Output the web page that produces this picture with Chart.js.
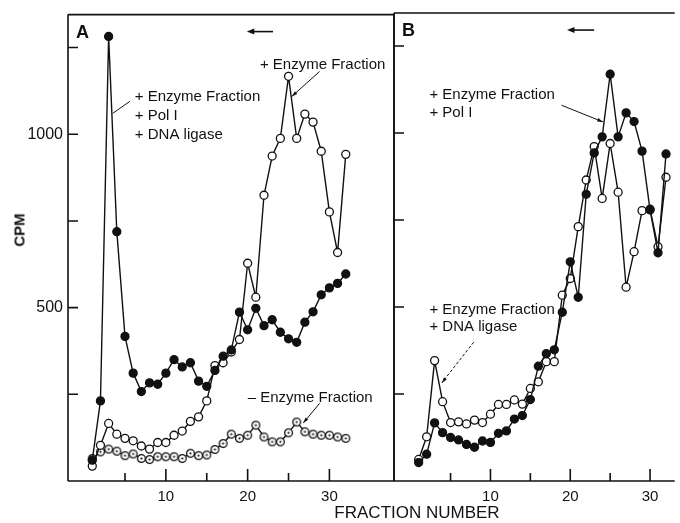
<!DOCTYPE html>
<html>
<head>
<meta charset="utf-8">
<title>CPM vs fraction number</title>
<script src="https://cdn.jsdelivr.net/npm/chart.js@4.4.0/dist/chart.umd.min.js"></script>
<style>
  html, body { margin: 0; padding: 0; background: #fff; }
  #wrap { position: relative; width: 680px; height: 523px; overflow: hidden; font-family: "Liberation Sans", Arial, sans-serif; color: #111; }
  #boxA { position: absolute; left: 0; top: 0; width: 400px; height: 523px; }
  #boxB { position: absolute; left: 380px; top: 0; width: 300px; height: 523px; }
  .ytitle { position: absolute; left: 19px; top: 230px; transform: translate(-50%, -50%) rotate(-90deg); font-weight: bold; font-size: 15px; }
  .xtitle { position: absolute; left: 417px; top: 513px; transform: translate(-50%, -50%); font-size: 17px; white-space: nowrap; }
</style>
</head>
<body>
<div id="wrap">
  <div id="boxA"><canvas id="chartA"></canvas></div>
  <div id="boxB"><canvas id="chartB"></canvas></div>
  <div class="ytitle">CPM</div>
  <div class="xtitle">FRACTION NUMBER</div>
</div>
<script>
// Fraction numbers (x values for every series)
const FRACTIONS = [1, 2, 3, 4, 5, 6, 7, 8, 9, 10, 11, 12, 13, 14, 15, 16,
  17, 18, 19, 20, 21, 22, 23, 24, 25, 26, 27, 28, 29, 30, 31, 32];

// Panel A
const A_ENZ_POL_LIGASE = [60, 231, 1282, 719, 417, 311, 258, 283, 279, 311, 350, 329, 341, 288, 273, 319,
  360, 378, 487, 436, 498, 448, 465, 429, 410, 400, 458, 488, 537, 557, 570, 597];
const A_ENZ = [43, 103, 166, 135, 123, 116, 101, 92, 111, 111, 132, 144, 172, 185, 231, 333,
  341, 372, 408, 628, 530, 824, 937, 988, 1167, 988, 1058, 1035, 951, 776, 659, 942];
const A_NO_ENZ = [65, 84, 92, 86, 73, 78, 65, 62, 70, 70, 70, 65, 80, 73, 75, 91,
  108, 135, 123, 132, 161, 127, 113, 113, 139, 170, 142, 135, 132, 132, 127, 123];

// Panel B
const B_ENZ_POL = [53, 77, 167, 139, 125, 118, 105, 97, 115, 111, 137, 144, 178, 188, 234, 330,
  366, 377, 485, 630, 528, 824, 943, 989, 1169, 989, 1058, 1033, 948, 779, 656, 940];
const B_ENZ_LIGASE = [62, 127, 346, 228, 168, 170, 164, 175, 168, 192, 220, 220, 233, 221, 266, 285,
  343, 343, 534, 582, 731, 865, 961, 812, 970, 830, 557, 659, 777, 781, 673, 873];

// Axis ticks
const X_TICKS = [5, 10, 15, 20, 25, 30];
const X_LABELED = [10, 20, 30];
const Y_TICKS = [250, 500, 750, 1000, 1250];
const Y_LABELED = [500, 1000];

const INK = '#111';
const FONT = '"Liberation Sans", Arial, sans-serif';

// Point style: open circle with a dot in the middle
function dottedCircle() {
  const c = document.createElement('canvas');
  c.width = 11; c.height = 11;
  const g = c.getContext('2d');
  g.fillStyle = '#fff';
  g.strokeStyle = INK;
  g.lineWidth = 1.3;
  g.beginPath(); g.arc(5.5, 5.5, 3.9, 0, Math.PI * 2); g.fill(); g.stroke();
  g.fillStyle = INK;
  g.beginPath(); g.arc(5.5, 5.5, 1.1, 0, Math.PI * 2); g.fill();
  return c;
}

function toPoints(values) {
  return values.map((v, i) => ({ x: FRACTIONS[i], y: v }));
}

function series(values, kind, order) {
  const ds = {
    data: toPoints(values),
    borderColor: INK,
    borderWidth: 1.4,
    pointRadius: 4,
    pointBorderWidth: 1.3,
    pointBorderColor: INK,
    pointBackgroundColor: kind === 'filled' ? INK : '#fff',
    tension: 0,
    order: order
  };
  if (kind === 'dotted') ds.pointStyle = dottedCircle();
  return ds;
}

// Annotations, in data coordinates (fraction, CPM)
const notesA = {
  letter: 'A',
  texts: [
    { lines: ['+ Enzyme Fraction', '+ Pol I', '+ DNA ligase'], x: 6.2, y: 1109, gap: 19 },
    { lines: ['+ Enzyme Fraction'], x: 21.5, y: 1201, gap: 19 },
    { lines: ['\u2013 Enzyme Fraction'], x: 20.0, y: 241, gap: 19 }
  ],
  leaders: [
    { from: [5.6, 1095], to: [3.5, 1060], head: false, dash: false },
    { from: [28.8, 1181], to: [25.4, 1109], head: true, dash: false },
    { from: [28.8, 224], to: [26.8, 167], head: true, dash: false }
  ],
  direction: { from: [23.1, 1296], to: [19.9, 1296] }
};

const notesB = {
  letter: 'B',
  texts: [
    { lines: ['+ Enzyme Fraction', '+ Pol I'], x: 2.35, y: 1109, gap: 18 },
    { lines: ['+ Enzyme Fraction', '+ DNA ligase'], x: 2.35, y: 491, gap: 17 }
  ],
  leaders: [
    { from: [18.9, 1080], to: [24.1, 1032], head: true, dash: false },
    { from: [7.9, 399], to: [3.9, 282], head: true, dash: true }
  ],
  direction: { from: [23.0, 1296], to: [19.6, 1296] }
};

function arrowHead(ctx, x1, y1, x2, y2, len, wide) {
  const ang = Math.atan2(y2 - y1, x2 - x1);
  ctx.beginPath();
  ctx.moveTo(x2, y2);
  ctx.lineTo(x2 - len * Math.cos(ang - wide), y2 - len * Math.sin(ang - wide));
  ctx.lineTo(x2 - len * Math.cos(ang + wide), y2 - len * Math.sin(ang + wide));
  ctx.closePath();
  ctx.fill();
}

// Frame, inward ticks and annotations
const framePlugin = {
  id: 'frame',
  afterDraw(chart, args, opts) {
    const { ctx, chartArea: a, scales: { x, y } } = chart;
    ctx.save();
    ctx.strokeStyle = INK;
    ctx.fillStyle = INK;
    ctx.lineWidth = 1.6;
    ctx.beginPath();
    ctx.moveTo(a.left, a.top); ctx.lineTo(a.right, a.top);
    ctx.moveTo(a.left, a.top); ctx.lineTo(a.left, a.bottom);
    ctx.moveTo(a.left, a.bottom); ctx.lineTo(a.right, a.bottom);
    if (opts.rightBorder) { ctx.moveTo(a.right, a.top); ctx.lineTo(a.right, a.bottom); }
    x.ticks.forEach(t => {
      const px = x.getPixelForValue(t.value);
      const len = X_LABELED.includes(t.value) ? 12 : 8;
      ctx.moveTo(px, a.bottom); ctx.lineTo(px, a.bottom - len);
    });
    y.ticks.forEach(t => {
      const py = y.getPixelForValue(t.value);
      ctx.moveTo(a.left, py); ctx.lineTo(a.left + 10, py);
    });
    ctx.stroke();

    const n = opts.notes;
    // panel letter
    ctx.font = 'bold 18px ' + FONT;
    ctx.textBaseline = 'middle';
    ctx.textAlign = 'left';
    ctx.fillText(n.letter, a.left + 8, a.top + 18);

    // text blocks
    ctx.font = '15px ' + FONT;
    n.texts.forEach(t => {
      const px = x.getPixelForValue(t.x);
      const py = y.getPixelForValue(t.y);
      t.lines.forEach((line, i) => ctx.fillText(line, px, py + i * t.gap));
    });

    // leader lines
    ctx.lineWidth = 1;
    n.leaders.forEach(l => {
      const x1 = x.getPixelForValue(l.from[0]), y1 = y.getPixelForValue(l.from[1]);
      const x2 = x.getPixelForValue(l.to[0]), y2 = y.getPixelForValue(l.to[1]);
      ctx.setLineDash(l.dash ? [3, 2] : []);
      ctx.beginPath(); ctx.moveTo(x1, y1); ctx.lineTo(x2, y2); ctx.stroke();
      ctx.setLineDash([]);
      if (l.head) arrowHead(ctx, x1, y1, x2, y2, 6, 0.3);
    });

    // sedimentation direction arrow
    const d = n.direction;
    const dx1 = x.getPixelForValue(d.from[0]), dy1 = y.getPixelForValue(d.from[1]);
    const dx2 = x.getPixelForValue(d.to[0]), dy2 = y.getPixelForValue(d.to[1]);
    ctx.lineWidth = 1.6;
    ctx.beginPath(); ctx.moveTo(dx1, dy1); ctx.lineTo(dx2 + 4, dy2); ctx.stroke();
    arrowHead(ctx, dx1, dy1, dx2, dy2, 8, 0.38);
    ctx.restore();
  }
};

function makeChart(canvasId, datasets, cfg) {
  return new Chart(document.getElementById(canvasId), {
    type: 'line',
    data: { datasets },
    options: {
      responsive: true,
      maintainAspectRatio: false,
      animation: false,
      events: [],
      layout: { padding: { top: 13, right: cfg.padRight, left: 0, bottom: 0 } },
      plugins: {
        legend: { display: false },
        tooltip: { enabled: false },
        frame: { notes: cfg.notes, rightBorder: cfg.rightBorder }
      },
      scales: {
        x: {
          type: 'linear',
          min: cfg.xMin,
          max: cfg.xMax,
          grid: { display: false, drawTicks: false },
          border: { display: false },
          afterBuildTicks: s => { s.ticks = X_TICKS.map(v => ({ value: v })); },
          afterFit: s => { s.height = 42; },
          ticks: {
            padding: 7,
            maxRotation: 0,
            autoSkip: false,
            color: INK,
            font: { family: FONT, size: 15 },
            callback: v => (X_LABELED.includes(v) ? String(v) : '')
          }
        },
        y: {
          type: 'linear',
          min: 0,
          max: 1345,
          grid: { display: false, drawTicks: false },
          border: { display: false },
          afterBuildTicks: s => { s.ticks = Y_TICKS.map(v => ({ value: v })); },
          afterFit: s => { s.width = cfg.yWidth; },
          ticks: {
            display: cfg.yLabels,
            padding: 5,
            color: INK,
            font: { family: FONT, size: 16 },
            callback: v => (Y_LABELED.includes(v) ? String(v) : '')
          }
        }
      }
    },
    plugins: [framePlugin]
  });
}

makeChart('chartA', [
  series(A_ENZ_POL_LIGASE, 'filled', 0),
  series(A_ENZ, 'open', 1),
  series(A_NO_ENZ, 'dotted', 2)
], { xMin: -1.97, xMax: 37.9, yWidth: 68, padRight: 6, yLabels: true, rightBorder: true, notes: notesA });

makeChart('chartB', [
  series(B_ENZ_POL, 'filled', 0),
  series(B_ENZ_LIGASE, 'open', 1)
], { xMin: -2.09, xMax: 33.09, yWidth: 14, padRight: 0, yLabels: false, rightBorder: false, notes: notesB });
</script>
</body>
</html>
